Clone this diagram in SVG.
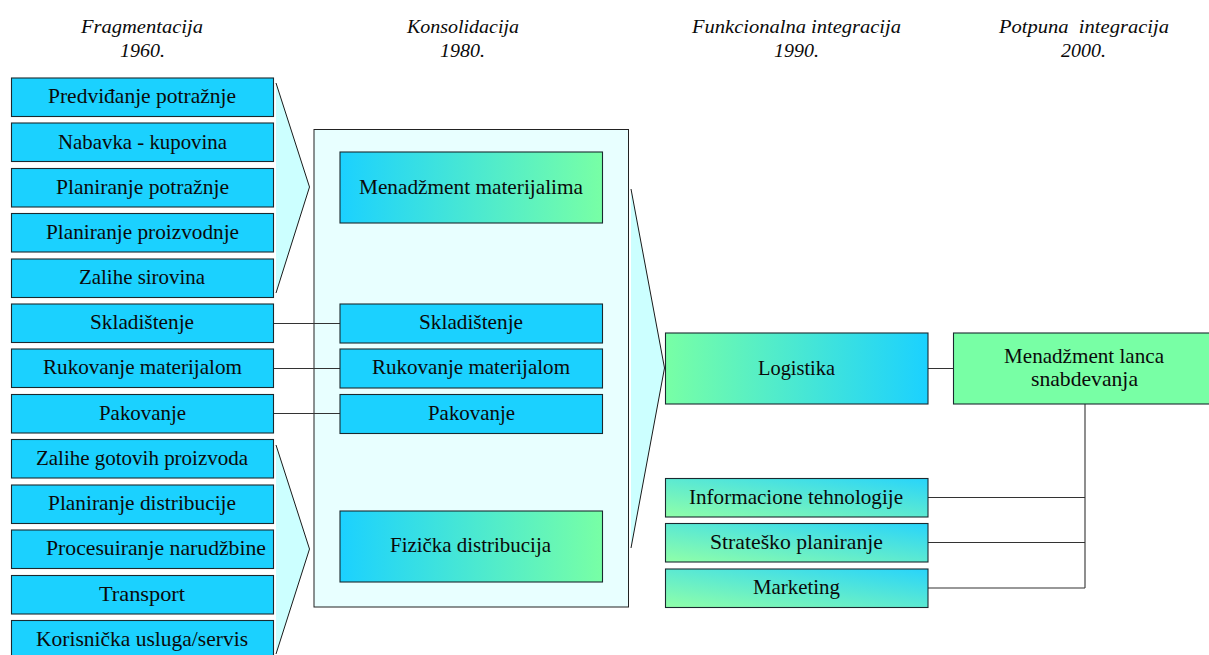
<svg xmlns="http://www.w3.org/2000/svg" width="1209" height="655" viewBox="0 0 1209 655">
<style>
text{font-family:"Liberation Serif","DejaVu Serif",serif;fill:#0a0a0a}
.t{font-size:21px}
.h{font-size:19px;font-style:italic}
.b{stroke:#1a2a30;stroke-width:1.1}
.blue{fill:#1bd1ff}
.green{fill:#78ffa5}
.gb{fill:url(#gb)}
.bg{fill:url(#bg)}
.dg{fill:url(#dg)}
.chev{fill:#ccffff}
.edge{fill:none;stroke:#1a1a1a;stroke-width:1}
.c{fill:none;stroke:#333;stroke-width:1.1}
</style>
<defs>
<linearGradient id="gb" x1="0" y1="0" x2="1" y2="0"><stop offset="0" stop-color="#1bd1ff"/><stop offset="1" stop-color="#78ffa5"/></linearGradient>
<linearGradient id="bg" x1="0" y1="0" x2="1" y2="0"><stop offset="0" stop-color="#78ffa5"/><stop offset="1" stop-color="#1bd1ff"/></linearGradient>
<linearGradient id="dg" x1="0" y1="1" x2="1" y2="0"><stop offset="0" stop-color="#90ffa8"/><stop offset="1" stop-color="#28d4fb"/></linearGradient>
</defs>
<g id="headers">
<text class="h" x="81" y="33" textLength="122" lengthAdjust="spacingAndGlyphs">Fragmentacija</text>
<text class="h" x="120" y="57" textLength="45" lengthAdjust="spacingAndGlyphs">1960.</text>
<text class="h" x="407" y="33" textLength="112" lengthAdjust="spacingAndGlyphs">Konsolidacija</text>
<text class="h" x="440" y="57" textLength="45" lengthAdjust="spacingAndGlyphs">1980.</text>
<text class="h" x="692" y="33" textLength="209" lengthAdjust="spacingAndGlyphs">Funkcionalna integracija</text>
<text class="h" x="774" y="57" textLength="45" lengthAdjust="spacingAndGlyphs">1990.</text>
<text class="h" x="999" y="33" textLength="170" lengthAdjust="spacingAndGlyphs" xml:space="preserve">Potpuna  integracija</text>
<text class="h" x="1061" y="57" textLength="45" lengthAdjust="spacingAndGlyphs">2000.</text>
</g>
<g id="consolidation-panel"><rect x="314" y="129.500" width="314.500" height="477.500" fill="#e8ffff" stroke="#222" stroke-width="1"/></g>
<g id="chevron-top"><polygon class="chev" points="276,83 309.500,187 276,293"/><polyline class="edge" points="276,83 309.500,187 276,293"/></g>
<g id="chevron-bottom"><polygon class="chev" points="276,445 309.500,549 276,654"/><polyline class="edge" points="276,445 309.500,549 276,654"/></g>
<g id="chevron-middle"><polygon class="chev" points="631,189 664.500,368 631,548"/><polyline class="edge" points="631,189 664.500,368 631,548"/></g>
<g id="connectors">
<path class="c" d="M273 323.500H340M273 368.500H340M273 413.500H340"/>
<path class="c" d="M928 368.500H953M1085 404V588M928 497.500H1085M928 542.500H1085M928 588H1085"/>
</g>
<g id="n1"><rect class="b blue" x="11.500" y="78" width="262" height="38.500"/><text class="t" x="48" y="103" textLength="188" lengthAdjust="spacingAndGlyphs">Predviđanje potražnje</text></g>
<g id="n2"><rect class="b blue" x="11.500" y="123" width="262" height="38.500"/><text class="t" x="58" y="149" textLength="169" lengthAdjust="spacingAndGlyphs">Nabavka - kupovina</text></g>
<g id="n3"><rect class="b blue" x="11.500" y="168.500" width="262" height="38.500"/><text class="t" x="56" y="194" textLength="173" lengthAdjust="spacingAndGlyphs">Planiranje potražnje</text></g>
<g id="n4"><rect class="b blue" x="11.500" y="213.500" width="262" height="38.500"/><text class="t" x="46" y="239" textLength="193" lengthAdjust="spacingAndGlyphs">Planiranje proizvodnje</text></g>
<g id="n5"><rect class="b blue" x="11.500" y="259" width="262" height="38.500"/><text class="t" x="79" y="284" textLength="126" lengthAdjust="spacingAndGlyphs">Zalihe sirovina</text></g>
<g id="n6"><rect class="b blue" x="11.500" y="304" width="262" height="38.500"/><text class="t" x="90" y="329" textLength="104" lengthAdjust="spacingAndGlyphs">Skladištenje</text></g>
<g id="n7"><rect class="b blue" x="11.500" y="349" width="262" height="38.500"/><text class="t" x="43" y="374" textLength="199" lengthAdjust="spacingAndGlyphs">Rukovanje materijalom</text></g>
<g id="n8"><rect class="b blue" x="11.500" y="394.500" width="262" height="38.500"/><text class="t" x="99" y="420" textLength="87" lengthAdjust="spacingAndGlyphs">Pakovanje</text></g>
<g id="n9"><rect class="b blue" x="11.500" y="439.500" width="262" height="38.500"/><text class="t" x="36" y="465" textLength="212" lengthAdjust="spacingAndGlyphs">Zalihe gotovih proizvoda</text></g>
<g id="n10"><rect class="b blue" x="11.500" y="485" width="262" height="38.500"/><text class="t" x="48" y="510" textLength="188" lengthAdjust="spacingAndGlyphs">Planiranje distribucije</text></g>
<g id="n11"><rect class="b blue" x="11.500" y="530" width="262" height="38.500"/><text class="t" x="46" y="555" textLength="220" lengthAdjust="spacingAndGlyphs">Procesuiranje narudžbine</text></g>
<g id="n12"><rect class="b blue" x="11.500" y="575.500" width="262" height="38.500"/><text class="t" x="99" y="601" textLength="86" lengthAdjust="spacingAndGlyphs">Transport</text></g>
<g id="n13"><rect class="b blue" x="11.500" y="620.500" width="262" height="38.500"/><text class="t" x="36" y="646" textLength="212" lengthAdjust="spacingAndGlyphs">Korisnička usluga/servis</text></g>
<g id="m1"><rect class="b gb" x="340" y="152" width="262.500" height="71"/><text class="t" x="359" y="194" textLength="224" lengthAdjust="spacingAndGlyphs">Menadžment materijalima</text></g>
<g id="m2"><rect class="b blue" x="340" y="304" width="262.500" height="39"/><text class="t" x="419" y="329" textLength="104" lengthAdjust="spacingAndGlyphs">Skladištenje</text></g>
<g id="m3"><rect class="b blue" x="340" y="349" width="262.500" height="39"/><text class="t" x="372" y="374" textLength="198" lengthAdjust="spacingAndGlyphs">Rukovanje materijalom</text></g>
<g id="m4"><rect class="b blue" x="340" y="394.500" width="262.500" height="39"/><text class="t" x="428" y="420" textLength="87" lengthAdjust="spacingAndGlyphs">Pakovanje</text></g>
<g id="m5"><rect class="b gb" x="340" y="511" width="262.500" height="71"/><text class="t" x="390" y="552" textLength="161" lengthAdjust="spacingAndGlyphs">Fizička distribucija</text></g>
<g id="r1"><rect class="b bg" x="665.500" y="333" width="262.500" height="71"/><text class="t" x="758" y="375" textLength="77" lengthAdjust="spacingAndGlyphs">Logistika</text></g>
<g id="r2"><rect class="b green" x="953.500" y="333" width="262.500" height="71"/><text class="t" x="1004" y="363" textLength="160" lengthAdjust="spacingAndGlyphs">Menadžment lanca</text><text class="t" x="1031" y="386" textLength="107" lengthAdjust="spacingAndGlyphs">snabdevanja</text></g>
<g id="r3"><rect class="b dg" x="665.500" y="478.500" width="262.500" height="38.500"/><text class="t" x="689" y="504" textLength="214" lengthAdjust="spacingAndGlyphs">Informacione tehnologije</text></g>
<g id="r4"><rect class="b dg" x="665.500" y="523.500" width="262.500" height="38.500"/><text class="t" x="710" y="549" textLength="173" lengthAdjust="spacingAndGlyphs">Strateško planiranje</text></g>
<g id="r5"><rect class="b dg" x="665.500" y="569" width="262.500" height="38.500"/><text class="t" x="753" y="594" textLength="87" lengthAdjust="spacingAndGlyphs">Marketing</text></g>
</svg>
